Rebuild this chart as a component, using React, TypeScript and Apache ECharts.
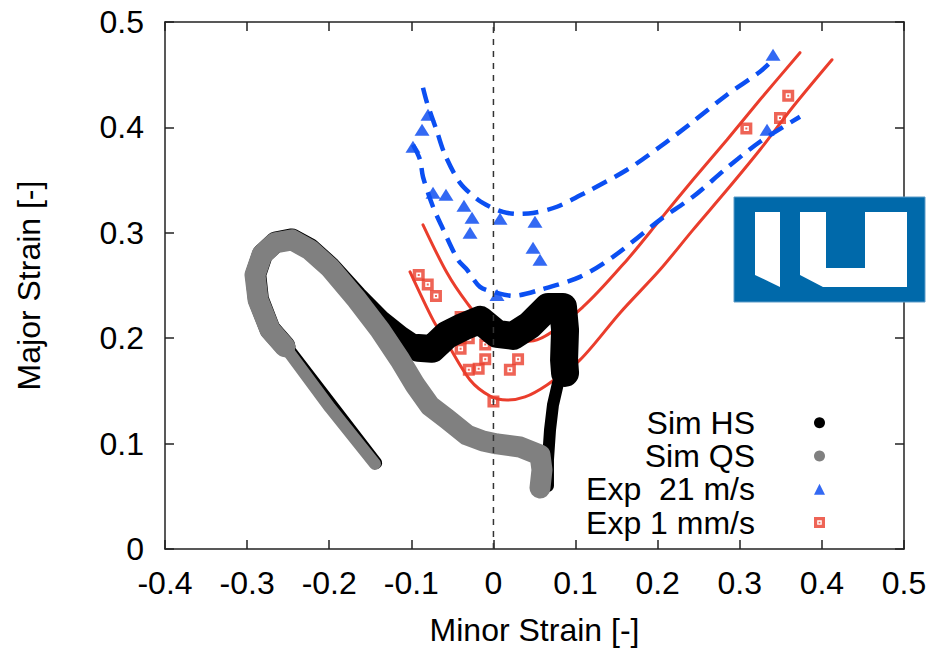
import React, { useEffect, useRef } from 'react';
import * as echarts from 'echarts';

const FONT = '"Liberation Sans", Arial, Helvetica, sans-serif';

// ---- axis ticks ----
const xRange = [-0.4, 0.5];
const yRange = [0, 0.5];
const tickStep = 0.1;

// ---- Simulation HS (black band), pieces with different band widths ----
const simHSLeg = [[-0.1428, 0.0817], [-0.2522, 0.1928]];
const simHSLoop = [
  [-0.2539, 0.1925], [-0.2721, 0.2085], [-0.2862, 0.2368], [-0.2895, 0.2605], [-0.2812, 0.2797],
  [-0.2655, 0.2912], [-0.2453, 0.2942], [-0.2234, 0.2848], [-0.1991, 0.2678], [-0.1662, 0.2395],
  [-0.1382, 0.2174], [-0.1138, 0.2022], [-0.0919, 0.1908],
];
const simHSBump = [
  [-0.0919, 0.1908], [-0.0748, 0.1899], [-0.0566, 0.2032], [-0.0371, 0.2107], [-0.0164, 0.2174],
  [0.0043, 0.2041], [0.0238, 0.2022], [0.0445, 0.2126], [0.0665, 0.2297], [0.0847, 0.2297],
  [0.0872, 0.2079], [0.086, 0.1794], [0.0872, 0.1671],
];
const simHSTail = [
  [0.0872, 0.1671], [0.0787, 0.1576], [0.0725, 0.1367], [0.0689, 0.113], [0.0664, 0.0845], [0.0664, 0.0598],
];

// ---- Simulation QS (grey band) ----
const simQSLeg = [[-0.1442, 0.0807], [-0.199, 0.1339], [-0.2539, 0.1918]];
const simQSLoop = [
  [-0.2539, 0.1918], [-0.2721, 0.2079], [-0.2867, 0.2364], [-0.2904, 0.2601], [-0.2819, 0.2791],
  [-0.266, 0.2905], [-0.2453, 0.2933], [-0.2234, 0.2838], [-0.1991, 0.2668], [-0.1662, 0.2364],
  [-0.1382, 0.2079], [-0.1138, 0.1794], [-0.0955, 0.1557], [-0.0773, 0.1358], [-0.0566, 0.1234],
  [-0.0322, 0.1082], [-0.0127, 0.1025], [0.0043, 0.0997], [0.0323, 0.0968], [0.0567, 0.0892],
  [0.0591, 0.075], [0.0567, 0.0579],
];

// ---- fitted curves (21 m/s, blue dashed) ----
const fit21Upper = [
  [-0.0858, 0.4376], [-0.0809, 0.4234], [-0.0687, 0.3959], [-0.059, 0.374], [-0.0407, 0.3474],
  [-0.0188, 0.3313], [-0.0042, 0.3247], [0.0116, 0.3198], [0.0287, 0.3179], [0.0482, 0.3188],
  [0.0774, 0.3247], [0.1139, 0.3389], [0.1627, 0.3598], [0.2028, 0.3816], [0.243, 0.4054],
  [0.2845, 0.431], [0.3246, 0.4528], [0.3405, 0.4642],
];
const fit21Lower = [
  [-0.098, 0.3835], [-0.0894, 0.3693], [-0.0858, 0.3531], [-0.0736, 0.3247], [-0.0627, 0.3057],
  [-0.0432, 0.2743], [-0.0322, 0.2649], [-0.0164, 0.2487], [0.0043, 0.243], [0.0238, 0.2402],
  [0.0567, 0.2459], [0.1054, 0.2582], [0.1456, 0.2772], [0.2028, 0.3123], [0.243, 0.3342],
  [0.2845, 0.3617], [0.3246, 0.3864], [0.3733, 0.4101],
];

// ---- fitted curves (1 mm/s, red solid) ----
const fit1Upper = [
  [-0.0858, 0.3076], [-0.0566, 0.262], [-0.0322, 0.2335], [-0.004, 0.208], [0.0263, 0.1965],
  [0.053, 0.1984], [0.109, 0.2297], [0.1627, 0.2743], [0.2028, 0.3123], [0.243, 0.3503],
  [0.2845, 0.3883], [0.3246, 0.4262], [0.3733, 0.4709],
];
const fit1Lower = [
  [-0.1016, 0.263], [-0.0736, 0.2174], [-0.0566, 0.1956], [-0.0285, 0.1604], [-0.0042, 0.1452],
  [0.0165, 0.1414], [0.0384, 0.1443], [0.0652, 0.1557], [0.1054, 0.1794], [0.1541, 0.224],
  [0.2028, 0.2649], [0.243, 0.3028], [0.2845, 0.3408], [0.3246, 0.3788], [0.3648, 0.4196],
  [0.4123, 0.4642],
];

// ---- experiments ----
const exp21 = [
  [-0.0797, 0.412], [-0.087, 0.3978], [-0.098, 0.3816], [-0.0736, 0.338], [-0.0578, 0.3361],
  [-0.0359, 0.3256], [-0.0261, 0.3142], [-0.0285, 0.3], [0.008, 0.3133], [0.0506, 0.3104],
  [0.0482, 0.2857], [0.0567, 0.2744], [0.0043, 0.2411], [0.3405, 0.469], [0.3332, 0.3978],
];
const exp1 = [
  [-0.091, 0.26], [-0.08, 0.251], [-0.07, 0.24], [-0.04, 0.22], [-0.04, 0.2], [-0.03, 0.2],
  [-0.01, 0.194], [-0.04, 0.19], [-0.01, 0.18], [-0.018, 0.171], [-0.03, 0.17], [0.03, 0.18],
  [0.02, 0.17], [0.0, 0.14], [0.359, 0.43], [0.349, 0.409], [0.308, 0.399],
];

// ---- vertical reference line at minor strain 0 ----
const zeroLine = [[0, 0], [0, 0.5]];

const legendNames = ['Sim HS', 'Sim QS', 'Exp  21 m/s', 'Exp 1 mm/s'];

const SQUARE = 'path://M0,0H12V12H0Z M3.5,3.5V8.5H8.5V3.5Z M5,5H7V7H5Z';
const BLUE = '#0b4ff2';
const RED = '#ea3d2c';
const GREY = '#808080';

function band(name: string, data: number[][], color: string, width: number) {
  return {
    type: 'line',
    name,
    data,
    symbol: 'none',
    showSymbol: false,
    silent: true,
    color,
    itemStyle: { color },
    lineStyle: { color, width, cap: 'round', join: 'round' },
  };
}

function fit(data: number[][], color: string, width: number, dashed: boolean) {
  return {
    type: 'line',
    name: '',
    data,
    symbol: 'none',
    showSymbol: false,
    silent: true,
    smooth: 0.3,
    color,
    lineStyle: { color, width, type: dashed ? [16, 9] : 'solid', cap: dashed ? 'butt' : 'round' },
  };
}

function axisCommon() {
  return {
    axisLine: { show: true, onZero: false, lineStyle: { color: '#222', width: 1.5 } },
    axisTick: { show: true, inside: true, length: 9, lineStyle: { color: '#222', width: 1.5 } },
    splitLine: { show: false },
  };
}

export default function App() {
  const ref = useRef<HTMLDivElement>(null);
  useEffect(() => {
    if (!ref.current) return;
    const chart = echarts.init(ref.current, null, { renderer: 'svg' });
    const option: any = {
      animation: false,
      backgroundColor: '#ffffff',
      textStyle: { fontFamily: FONT },
      grid: { left: 165, right: 31, top: 22, bottom: 102, containLabel: false, outerBoundsMode: 'none' },
      xAxis: [
        {
          type: 'value', min: xRange[0], max: xRange[1], interval: tickStep, position: 'bottom',
          name: 'Minor Strain [-]', nameLocation: 'middle', nameGap: 65,
          nameTextStyle: { fontSize: 32, color: '#000', fontFamily: FONT },
          axisLabel: { fontSize: 32, color: '#000', margin: 18, fontFamily: FONT },
          ...axisCommon(),
        },
        {
          type: 'value', min: xRange[0], max: xRange[1], interval: tickStep, position: 'top',
          axisLabel: { show: false },
          ...axisCommon(),
        },
      ],
      yAxis: [
        {
          type: 'value', min: yRange[0], max: yRange[1], interval: tickStep, position: 'left',
          name: 'Major Strain [-]', nameLocation: 'middle', nameGap: 120,
          nameTextStyle: { fontSize: 32, color: '#000', fontFamily: FONT },
          axisLabel: { fontSize: 32, color: '#000', margin: 21, fontFamily: FONT },
          ...axisCommon(),
        },
        {
          type: 'value', min: yRange[0], max: yRange[1], interval: tickStep, position: 'right',
          axisLabel: { show: false },
          ...axisCommon(),
        },
      ],
      legend: {
        orient: 'vertical',
        align: 'right',
        right: 110,
        top: 406,
        padding: 0,
        itemGap: 0,
        itemWidth: 11,
        itemHeight: 11,
        selectedMode: false,
        itemStyle: { borderWidth: 0 },
        data: [
          { name: legendNames[0], icon: 'circle' },
          { name: legendNames[1], icon: 'circle' },
          { name: legendNames[2], icon: 'triangle' },
          { name: legendNames[3], icon: SQUARE },
        ],
        textStyle: { fontSize: 32, lineHeight: 33.3, color: '#000', padding: [0, 54, 0, 0], fontFamily: FONT },
      },
      graphic: [
        { type: 'rect', z: 100, shape: { x: 734, y: 197, width: 191, height: 105 }, style: { fill: '#0069aa', stroke: '#5d9cc8', lineWidth: 1 } },
        { type: 'polygon', z: 101, shape: { points: [[755, 212], [780, 212], [780, 287], [755, 275]] }, style: { fill: '#ffffff' } },
        {
          type: 'polygon', z: 101,
          shape: { points: [[800, 212], [826, 212], [826, 268], [865, 268], [865, 212], [907, 212], [907, 287], [823, 287], [800, 275]] },
          style: { fill: '#ffffff' },
        },
      ],
      series: [
        fit(fit1Upper, RED, 3, false),
        fit(fit1Lower, RED, 3, false),
        fit(fit21Upper, BLUE, 4.5, true),
        fit(fit21Lower, BLUE, 4.5, true),
        band(legendNames[0], simHSLeg, '#000000', 12),
        band('hs-loop', simHSLoop, '#000000', 21),
        band('hs-bump', simHSBump, '#000000', 28),
        band('hs-tail', simHSTail, '#000000', 12),
        band(legendNames[1], simQSLeg, GREY, 12),
        band('qs-loop', simQSLoop, GREY, 21),
        {
          type: 'line', name: 'zero', data: zeroLine, symbol: 'none', silent: true,
          lineStyle: { color: '#333', width: 1.5, type: [6, 6] },
        },
        {
          type: 'scatter', name: legendNames[2], data: exp21, symbol: 'triangle', symbolSize: [15, 12],
          itemStyle: { color: '#0044f0' }, silent: true,
        },
        {
          type: 'scatter', name: legendNames[3], data: exp1, symbol: SQUARE, symbolSize: 12,
          itemStyle: { color: RED }, silent: true,
        },
      ],
    };
    chart.setOption(option);
    return () => chart.dispose();
  }, []);
  return (
    <div
      ref={ref}
      style={{ position: 'fixed', left: 0, top: 0, width: 935, height: 651, background: '#fff' }}
    />
  );
}
